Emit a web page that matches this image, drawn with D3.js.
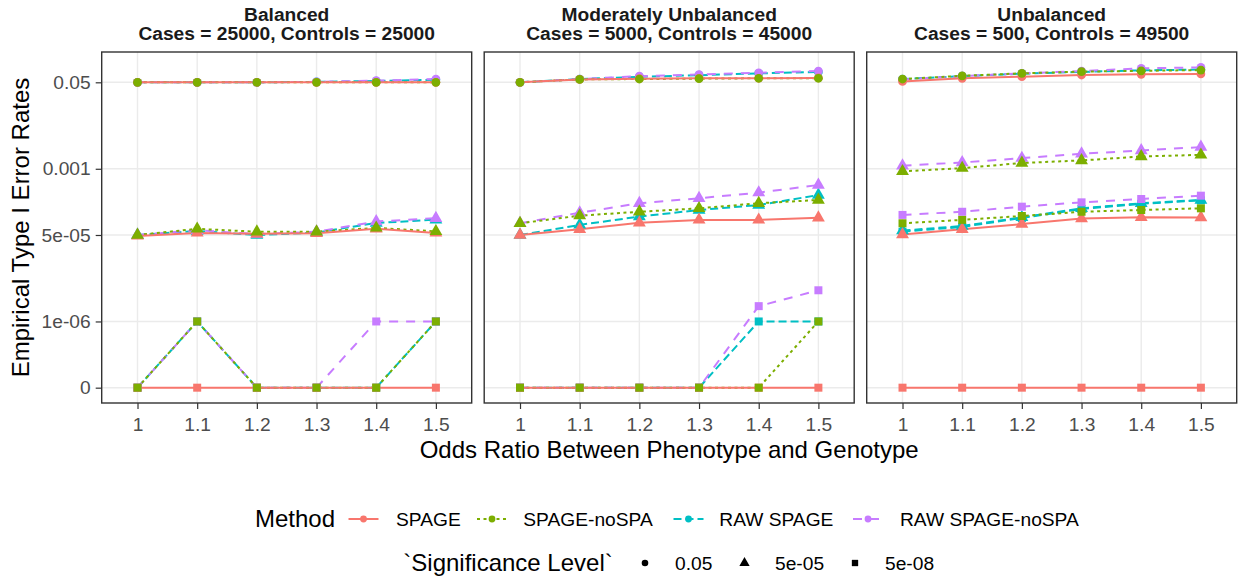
<!DOCTYPE html>
<html><head><meta charset="utf-8">
<script src="https://cdn.jsdelivr.net/npm/d3@7"></script>
<style>body{margin:0;background:#fff} text{font-family:"Liberation Sans",Arial,sans-serif}</style>
</head><body><svg id="c" width="1238" height="580"></svg>
<script>
// ---------- data ----------
const categories = ["1","1.1","1.2","1.3","1.4","1.5"];
const panelTitles = ["Balanced","Moderately Unbalanced","Unbalanced"];
const panelSubtitles = ["Cases = 25000, Controls = 25000","Cases = 5000, Controls = 45000","Cases = 500, Controls = 49500"];
const methods = ["SPAGE","SPAGE-noSPA","RAW SPAGE","RAW SPAGE-noSPA"];
const sigLevels = ["0.05","5e-05","5e-08"];
const yTickValues = [0.05, 0.001, 5e-5, 1e-6, 0];
const yTickLabels = ["0.05","0.001","5e-05","1e-06","0"];
const zeroLevel = 5e-8; // where an empirical rate of 0 is drawn

// rows: SPAGE, SPAGE-noSPA, RAW SPAGE, RAW SPAGE-noSPA
const balanced_005 = [
  [0.050,0.050,0.050,0.050,0.050,0.050],
  [0.050,0.050,0.050,0.050,0.050,0.050],
  [0.050,0.050,0.050,0.051,0.053,0.056],
  [0.050,0.050,0.050,0.051,0.054,0.058]];
const balanced_5e05 = [
  [4.8e-5,5.5e-5,5.3e-5,5.4e-5,6.6e-5,5.5e-5],
  [5.0e-5,6.6e-5,5.8e-5,5.8e-5,6.9e-5,5.9e-5],
  [5.0e-5,6.0e-5,5.0e-5,5.6e-5,8.6e-5,1.0e-4],
  [5.0e-5,6.2e-5,5.2e-5,5.8e-5,9.2e-5,1.07e-4]];
const balanced_5e08 = [
  [0,0,0,0,0,0],
  [0,1e-6,0,0,0,1e-6],
  [0,1e-6,0,0,0,1e-6],
  [0,1e-6,0,0,1e-6,1e-6]];
const moderate_005 = [
  [0.050,0.057,0.059,0.060,0.060,0.061],
  [0.050,0.057,0.058,0.059,0.060,0.060],
  [0.050,0.058,0.064,0.069,0.075,0.080],
  [0.050,0.058,0.066,0.071,0.077,0.083]];
const moderate_5e05 = [
  [5.0e-5,6.5e-5,8.7e-5,9.9e-5,9.9e-5,1.09e-4],
  [8.5e-5,1.2e-4,1.43e-4,1.67e-4,2.1e-4,2.44e-4],
  [5.0e-5,7.9e-5,1.15e-4,1.55e-4,1.94e-4,3.05e-4],
  [8.5e-5,1.37e-4,2.1e-4,2.63e-4,3.4e-4,4.8e-4]];
const moderate_5e08 = [
  [0,0,0,0,0,0],
  [0,0,0,0,0,1e-6],
  [0,0,0,0,1e-6,1e-6],
  [0,0,0,0,2.0e-6,4.1e-6]];
const unbalanced_005 = [
  [0.052,0.0599,0.0644,0.0695,0.0718,0.0728],
  [0.058,0.067,0.075,0.081,0.084,0.087],
  [0.058,0.066,0.074,0.080,0.086,0.089],
  [0.057,0.066,0.075,0.083,0.094,0.098]];
const unbalanced_5e05 = [
  [5.1e-5,6.5e-5,8.2e-5,1.05e-4,1.12e-4,1.1e-4],
  [8.9e-4,1.03e-3,1.3e-3,1.46e-3,1.74e-3,1.88e-3],
  [6.1e-5,7.5e-5,1.11e-4,1.67e-4,2.1e-4,2.44e-4],
  [1.15e-3,1.33e-3,1.62e-3,1.97e-3,2.29e-3,2.67e-3]];
const unbalanced_5e08 = [
  [0,0,0,0,0,0],
  [8.5e-5,9.9e-5,1.18e-4,1.43e-4,1.55e-4,1.67e-4],
  [5.8e-5,7.2e-5,1.08e-4,1.62e-4,2.05e-4,2.4e-4],
  [1.24e-4,1.43e-4,1.8e-4,2.19e-4,2.55e-4,2.96e-4]];

const panelData = [
  [balanced_005, balanced_5e05, balanced_5e08],
  [moderate_005, moderate_5e05, moderate_5e08],
  [unbalanced_005, unbalanced_5e05, unbalanced_5e08]];

// ---------- styles ----------
const colors = ["#F8766D","#7CAE00","#00BFC4","#C77CFF"];
const dashes = [null,"3,3.5","8,4","9,8"];
const shapes = [d3.symbolCircle, d3.symbolTriangle, d3.symbolSquare];
const shapeSizes = [60, 72, 64];
const lineOrder = [2, 3, 1, 0];  // order in which line layers are painted
const pointOrder = [2, 3, 0, 1]; // order in which point layers are painted

const svg = d3.select("#c");
const M = {left:101.7, right:1236.7, top:52, bottom:403};
const H = M.bottom - M.top;
const panelScale = d3.scaleBand().domain(d3.range(3)).range([M.left, M.right]).paddingInner(0.0327);
const W = panelScale.bandwidth();
const x = d3.scalePoint().domain(categories).range([0, W]).padding(0.6);
const y = d3.scaleLog().domain([2.5e-8, 0.197]).range([H, 0]);
const yv = v => y(v === 0 ? zeroLevel : v);

svg.append("rect").attr("width",1238).attr("height",580).attr("fill","#fff");

panelData.forEach((pd, pi) => {
  const g = svg.append("g").attr("transform", `translate(${panelScale(pi)},${M.top})`);
  g.append("rect").attr("width", W).attr("height", H).attr("fill", "#fff");
  // grid
  g.selectAll(".gx").data(categories).join("line")
    .attr("x1", d => x(d)).attr("x2", d => x(d)).attr("y1", 0).attr("y2", H)
    .attr("stroke", "#EBEBEB").attr("stroke-width", 1.4);
  g.selectAll(".gy").data(yTickValues).join("line")
    .attr("x1", 0).attr("x2", W).attr("y1", d => yv(d)).attr("y2", d => yv(d))
    .attr("stroke", "#EBEBEB").attr("stroke-width", 1.4);
  const line = d3.line().x((v, i) => x(categories[i])).y(v => yv(v));
  // lines
  lineOrder.forEach(mi => {
    sigLevels.forEach((s, si) => {
      g.append("path").attr("d", line(pd[si][mi])).attr("fill", "none")
        .attr("stroke", colors[mi]).attr("stroke-width", 2)
        .attr("stroke-dasharray", dashes[mi]);
    });
  });
  // points
  pointOrder.forEach(mi => {
    sigLevels.forEach((s, si) => {
      g.selectAll(null).data(pd[si][mi]).join("path")
        .attr("transform", (v, i) => `translate(${x(categories[i])},${yv(v)})`)
        .attr("d", d3.symbol().type(shapes[si]).size(shapeSizes[si]))
        .attr("fill", colors[mi]);
    });
  });
  g.append("rect").attr("width", W).attr("height", H).attr("fill", "none")
    .attr("stroke", "#333333").attr("stroke-width", 1.4);
  // x axis
  const ax = g.append("g").attr("transform", `translate(0,${H})`)
    .call(d3.axisBottom(x).tickSize(6).tickPadding(8));
  ax.select(".domain").remove();
  ax.selectAll("line").attr("stroke", "#333333").attr("stroke-width", 1.2);
  ax.selectAll("text").attr("fill", "#4D4D4D").attr("font-size", 19.2)
    .attr("font-family", '"Liberation Sans",Arial,sans-serif');
  if (pi === 0) {
    const ay = g.append("g").call(d3.axisLeft(y)
      .tickValues(yTickValues.map(v => v === 0 ? zeroLevel : v))
      .tickFormat((d, i) => yTickLabels[i]).tickSize(6).tickPadding(5));
    ay.select(".domain").remove();
    ay.selectAll("line").attr("stroke", "#333333").attr("stroke-width", 1.2);
    ay.selectAll("text").attr("fill", "#4D4D4D").attr("font-size", 19.2)
      .attr("font-family", '"Liberation Sans",Arial,sans-serif');
  }
  // strip titles
  g.append("text").attr("x", W / 2).attr("y", -31.5).attr("text-anchor", "middle")
    .attr("font-size", 19.2).attr("font-weight", "bold").attr("fill", "#1A1A1A").text(panelTitles[pi]);
  g.append("text").attr("x", W / 2).attr("y", -12.5).attr("text-anchor", "middle")
    .attr("font-size", 19.2).attr("font-weight", "bold").attr("fill", "#1A1A1A").text(panelSubtitles[pi]);
});

// axis titles
svg.append("text").attr("x", (M.left + M.right) / 2).attr("y", 458).attr("text-anchor", "middle")
  .attr("font-size", 24).attr("fill", "#000").text("Odds Ratio Between Phenotype and Genotype");
svg.append("text").attr("transform", `translate(29,${(M.top + M.bottom) / 2}) rotate(-90)`)
  .attr("text-anchor", "middle").attr("font-size", 24).attr("fill", "#000").text("Empirical Type I Error Rates");

// legend: Method
const row1 = 519, row2 = 563;
svg.append("text").attr("x", 255).attr("y", row1).attr("dy", "0.35em").attr("font-size", 24).text("Method");
const keyX = [348.5, 477, 673.5, 853];
const labX = [396, 523.3, 719.3, 900];
methods.forEach((m, mi) => {
  svg.append("line").attr("x1", keyX[mi]).attr("x2", keyX[mi] + 30).attr("y1", row1).attr("y2", row1)
    .attr("stroke", colors[mi]).attr("stroke-width", 2).attr("stroke-dasharray", dashes[mi]);
  svg.append("path").attr("transform", `translate(${keyX[mi] + 15},${row1})`)
    .attr("d", d3.symbol().type(d3.symbolCircle).size(36)).attr("fill", colors[mi]);
  svg.append("text").attr("x", labX[mi]).attr("y", row1).attr("dy", "0.35em").attr("font-size", 19.2)
    .attr("fill", "#000").text(m);
});
// legend: Significance Level
svg.append("text").attr("x", 403.3).attr("y", row2).attr("dy", "0.35em").attr("font-size", 24).text("`Significance Level`");
const symX = [645, 744.5, 855];
const sLabX = [675, 775, 885];
sigLevels.forEach((s, si) => {
  svg.append("path").attr("transform", `translate(${symX[si]},${row2})`)
    .attr("d", d3.symbol().type(shapes[si]).size([34, 46, 40][si])).attr("fill", "#000");
  svg.append("text").attr("x", sLabX[si]).attr("y", row2).attr("dy", "0.35em").attr("font-size", 19.2)
    .attr("fill", "#000").text(s);
});
</script></body></html>
